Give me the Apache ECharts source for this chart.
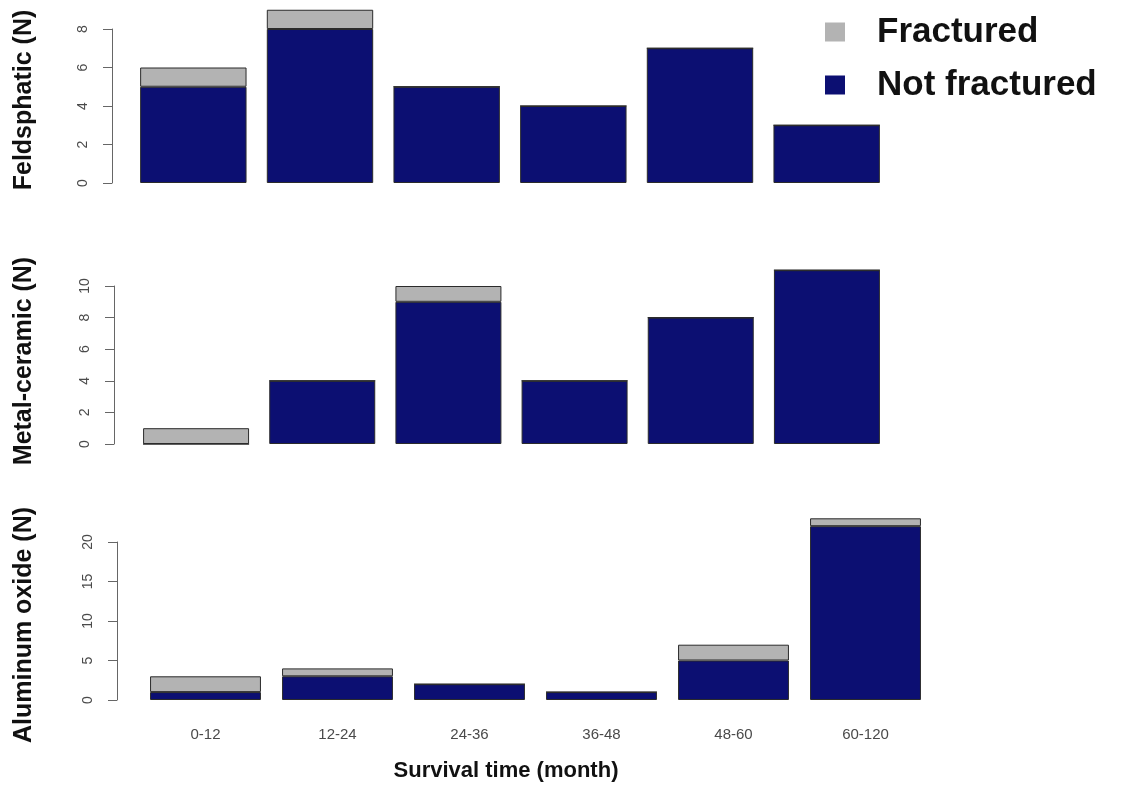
<!DOCTYPE html>
<html>
<head>
<meta charset="utf-8">
<script src="https://cdn.jsdelivr.net/npm/echarts@6/dist/echarts.min.js"></script>
<style>
html,body{margin:0;padding:0;background:#fff;}
#chart{width:1121px;height:785px;}
</style>
</head>
<body>
<div id="chart"></div>
<script>
// ---- data ----
const categories = ['0-12', '12-24', '24-36', '36-48', '48-60', '60-120'];
const feldNotFractured = [5, 8, 5, 4, 7, 3];
const feldFractured    = [1, 1, 0, 0, 0, 0];
const metalNotFractured = [0, 4, 9, 4, 8, 11];
const metalFractured    = [1, 0, 1, 0, 0, 0];
const aluNotFractured = [1, 3, 2, 1, 5, 22];
const aluFractured    = [2, 1, 0, 0, 2, 1];
const panelTitles = ['Feldsphatic (N)', 'Metal-ceramic (N)', 'Aluminum oxide (N)'];
const yMax = [8, 10, 20];
const yInterval = [2, 2, 5];
const xTitle = 'Survival time (month)';
const seriesNames = ['Fractured', 'Not fractured'];

// ---- styles ----
const NAVY = '#0c0f72';
const GREY = '#b3b3b3';
const FONT = '"Liberation Sans", Arial, Helvetica, sans-serif';

const grids = [
  { left: 130, width: 760, top: 29, height: 154 },
  { left: 133, width: 757, top: 286, height: 158 },
  { left: 139.5, width: 792, top: 542, height: 158 }
];
const axisOffsets = [18, 19, 22.5];
const titleCenters = [100, 361, 625];

const notFr = [feldNotFractured, metalNotFractured, aluNotFractured];
const fr = [feldFractured, metalFractured, aluFractured];

const xAxes = grids.map((g, i) => ({
  type: 'category',
  gridIndex: i,
  data: categories,
  show: i === 2,
  axisLine: { show: false },
  axisTick: { show: false },
  axisLabel: { show: i === 2, color: '#4a4a4a', fontSize: 15, fontFamily: FONT, margin: 27 }
}));

const yAxes = grids.map((g, i) => ({
  type: 'value',
  gridIndex: i,
  min: 0,
  max: yMax[i],
  interval: yInterval[i],
  offset: axisOffsets[i],
  splitLine: { show: false },
  axisLine: { show: true, lineStyle: { color: '#666', width: 1 } },
  axisTick: { show: true, length: 9, lineStyle: { color: '#666', width: 1 } },
  axisLabel: { rotate: 90, color: '#4a4a4a', fontSize: 14, fontFamily: FONT, margin: 22 }
}));

const series = [];
for (let i = 0; i < 3; i++) {
  series.push({
    name: seriesNames[1],
    type: 'bar',
    xAxisIndex: i, yAxisIndex: i,
    stack: 'p' + i,
    data: notFr[i],
    clip: false,
    barCategoryGap: '16%',
    itemStyle: { color: NAVY, borderColor: '#2b2b2b', borderWidth: 1 },
    emphasis: { disabled: true }
  });
  series.push({
    name: seriesNames[0],
    type: 'bar',
    xAxisIndex: i, yAxisIndex: i,
    stack: 'p' + i,
    data: fr[i],
    clip: false,
    barCategoryGap: '16%',
    itemStyle: { color: GREY, borderColor: '#2b2b2b', borderWidth: 1 },
    emphasis: { disabled: true }
  });
}

const graphics = panelTitles.map((t, i) => ({
  type: 'text',
  x: 24,
  y: titleCenters[i],
  rotation: Math.PI / 2,
  style: {
    text: t,
    fill: '#111',
    font: 'bold 25px ' + FONT,
    textAlign: 'center',
    textVerticalAlign: 'middle'
  }
}));
graphics.push({
  type: 'text',
  x: 506,
  y: 771,
  style: {
    text: xTitle,
    fill: '#111',
    font: 'bold 22px ' + FONT,
    textAlign: 'center',
    textVerticalAlign: 'middle'
  }
});

const option = {
  backgroundColor: '#fff',
  animation: false,
  grid: grids,
  xAxis: xAxes,
  yAxis: yAxes,
  legend: {
    data: seriesNames,
    orient: 'vertical',
    left: 820,
    top: 9,
    icon: 'rect',
    itemWidth: 20,
    itemHeight: 19,
    itemGap: 17,
    itemStyle: { borderWidth: 0 },
    selectedMode: false,
    textStyle: { fontSize: 35, fontWeight: 'bold', color: '#111', fontFamily: FONT, lineHeight: 36, padding: [0, 0, 0, 27] }
  },
  graphic: graphics,
  series: series
};

const chart = echarts.init(document.getElementById('chart'), null, { renderer: 'canvas' });
chart.setOption(option);
</script>
</body>
</html>
